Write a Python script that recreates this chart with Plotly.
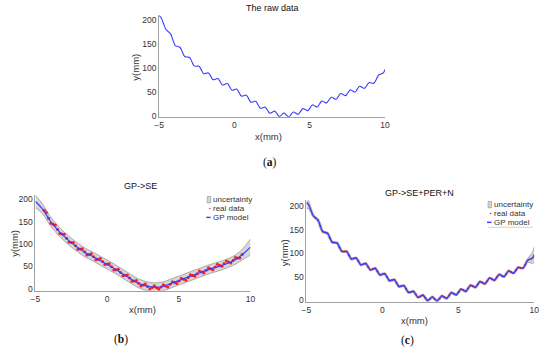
import plotly.graph_objects as go

# ---------------- data ----------------
raw_x = [-5, -4.867, -4.71, -4.553, -4.396, -4.239, -4.082, -3.925, -3.768, -3.611,
         -3.454, -3.297, -3.14, -2.983, -2.826, -2.669, -2.512, -2.355, -2.198, -2.041,
         -1.884, -1.727, -1.57, -1.413, -1.256, -1.099, -0.942, -0.785, -0.628, -0.471,
         -0.314, -0.157, 0, 0.157, 0.314, 0.471, 0.628, 0.785, 0.942, 1.099,
         1.256, 1.413, 1.57, 1.727, 1.884, 2.041, 2.198, 2.355, 2.512, 2.669,
         2.826, 2.983, 3.14, 3.297, 3.454, 3.611, 3.768, 3.925, 4.082, 4.239,
         4.396, 4.553, 4.71, 4.867, 5.024, 5.181, 5.338, 5.495, 5.652, 5.809,
         5.966, 6.123, 6.28, 6.437, 6.594, 6.751, 6.908, 7.065, 7.222, 7.379,
         7.536, 7.693, 7.85, 8.007, 8.164, 8.321, 8.478, 8.635, 8.792, 8.949,
         9.106, 9.263, 9.42, 9.577, 9.734, 9.891, 10]
raw_y = [208, 204, 191.9, 180, 175.2, 170.4, 157.6, 146.2, 144.2, 142.2,
         132.5, 123.5, 122.5, 121.5, 112.8, 104.1, 103.4, 103.5, 95.8, 88,
         88.7, 89.5, 82.4, 75.4, 76.6, 77.8, 71.1, 64.6, 66, 67.5,
         60.7, 53.8, 55, 55.9, 48.7, 41.6, 42.4, 43.3, 36.2, 29,
         29.9, 30.7, 23.6, 16.5, 17.3, 18.4, 12.2, 6, 7.9, 10.3,
         4.7, -0.8, 2.7, 6.4, 2.1, -1.3, 3.6, 8.5, 6, 3.9,
         9.8, 15.6, 13.5, 11.4, 17.3, 23.2, 21.1, 18.9, 25.1, 31.3,
         29.5, 27.5, 33.4, 39.2, 37.1, 35, 40.9, 46.8, 44.7, 42.5,
         48.4, 54.3, 52.2, 50.1, 56, 61.9, 59.7, 57.6, 63.5, 69.4,
         68.5, 68.3, 76.1, 85.1, 87.4, 89.6, 97]

# training range of the "real data" shown in (b) and (c)
train_min, train_max = -4.5, 9.45

# GP with SE kernel: mean and half width of the uncertainty band
se_x = [-5, -4.5, -4, -3.5, -3, -2.5, -2, -1.5, -1, -0.5, 0, 0.5, 1, 1.5, 2, 2.5,
        3, 3.5, 4, 4.5, 5, 5.5, 6, 6.5, 7, 7.5, 8, 8.5, 9, 9.5, 10]
se_mean = [195, 178, 153, 133, 117, 103, 91, 80, 72, 63, 54, 45, 35, 25, 15, 8,
           4, 3, 6, 12, 18, 24, 30, 36, 42, 47, 52, 58, 66, 78, 93]
se_sd = [14, 11, 10, 10, 10, 10, 10, 10, 10, 10, 10, 10, 10, 10, 10, 10,
         10, 10, 10, 10, 10, 10, 10, 10, 10, 10, 10, 10, 10.5, 12.5, 18]

# GP with SE+PER+N kernel: band half width where it opens up at both ends
per_left_x = [-5, -4.867, -4.71, -4.553, -4.396]
per_left_sd = [12, 9, 5, 2.5, 1]
per_right_x = [9.42, 9.577, 9.734, 9.891, 10]
per_right_sd = [1, 4, 8, 12, 16]

x_ticks = [-5, 0, 5, 10]
y_ticks = [0, 50, 100, 150, 200]
legend_labels = ["uncertainty", "real data", "GP model"]

# ---------------- styles ----------------
BLUE = "#3b3bff"
RED = "#ff1a1a"
BAND_FILL = "rgba(200,200,200,0.75)"
BAND_EDGE = "#9a9a9a"
AX = "#a0a0a0"
TXT = "#333333"
FONT = "Liberation Sans"
SM = 1.3

W, H = 550, 356


def px_x(p):
    return p / W


def px_y(p):
    return 1 - p / H


fig = go.Figure()

lookup = dict(zip(raw_x, raw_y))
train_x = [x for x in raw_x if train_min <= x <= train_max]
train_y = [lookup[x] for x in train_x]

# ---------- (a) raw data ----------
fig.add_trace(go.Scatter(x=raw_x, y=raw_y, mode="lines",
                         line=dict(color=BLUE, width=1.1, shape="spline", smoothing=SM),
                         xaxis="x", yaxis="y"))

# ---------- (b) GP->SE ----------
se_up = [m + s for m, s in zip(se_mean, se_sd)]
se_lo = [m - s for m, s in zip(se_mean, se_sd)]
fig.add_trace(go.Scatter(x=se_x, y=se_lo, mode="lines", line=dict(color=BAND_EDGE, width=0.8, shape="spline"),
                         xaxis="x2", yaxis="y2", hoverinfo="skip"))
fig.add_trace(go.Scatter(x=se_x, y=se_up, mode="lines", line=dict(color=BAND_EDGE, width=0.8, shape="spline"),
                         fill="tonexty", fillcolor=BAND_FILL, name="uncertainty", xaxis="x2", yaxis="y2"))
fig.add_trace(go.Scatter(x=train_x, y=train_y, mode="markers", marker=dict(color=RED, size=3),
                         name="real data", xaxis="x2", yaxis="y2"))
fig.add_trace(go.Scatter(x=se_x, y=se_mean, mode="lines", line=dict(color=BLUE, width=1.2, shape="spline"),
                         name="GP model", xaxis="x2", yaxis="y2"))

# ---------- (c) GP->SE+PER+N ----------
for bx, bsd in ((per_left_x, per_left_sd), (per_right_x, per_right_sd)):
    c = [lookup[x] for x in bx]
    lo = [v - s for v, s in zip(c, bsd)]
    up = [v + s for v, s in zip(c, bsd)]
    fig.add_trace(go.Scatter(x=bx, y=lo, mode="lines", line=dict(color=BAND_EDGE, width=0.8),
                             xaxis="x3", yaxis="y3", hoverinfo="skip"))
    fig.add_trace(go.Scatter(x=bx, y=up, mode="lines", line=dict(color=BAND_EDGE, width=0.8),
                             fill="tonexty", fillcolor=BAND_FILL, xaxis="x3", yaxis="y3", hoverinfo="skip"))
# thin band along the fitted curve
fig.add_trace(go.Scatter(x=raw_x, y=raw_y, mode="lines",
                         line=dict(color="#b5b5b5", width=3.0, shape="spline", smoothing=SM),
                         xaxis="x3", yaxis="y3", hoverinfo="skip"))
fig.add_trace(go.Scatter(x=train_x, y=train_y, mode="markers", marker=dict(color=RED, size=2),
                         name="real data", xaxis="x3", yaxis="y3"))
fig.add_trace(go.Scatter(x=raw_x, y=raw_y, mode="lines",
                         line=dict(color=BLUE, width=1.3, shape="spline", smoothing=SM),
                         name="GP model", xaxis="x3", yaxis="y3"))


def xa(dom, anchor):
    return dict(domain=dom, anchor=anchor, range=[-5, 10], tickvals=x_ticks, showgrid=False, zeroline=False,
                showline=True, linecolor=AX, linewidth=1, ticks="",
                tickfont=dict(size=8.5, color=TXT, family=FONT))


def ya(dom, anchor, rng):
    return dict(domain=dom, anchor=anchor, range=rng, tickvals=y_ticks, showgrid=False, zeroline=False,
                showline=True, linecolor=AX, linewidth=1, ticks="",
                tickfont=dict(size=8.5, color=TXT, family=FONT))


fig.update_layout(
    width=W, height=H, autosize=False, margin=dict(l=0, r=0, t=0, b=0),
    paper_bgcolor="white", plot_bgcolor="white", showlegend=False,
    font=dict(family=FONT, size=8.5, color=TXT),
    xaxis=xa([px_x(157), px_x(387)], "y"),
    yaxis=ya([px_y(117.5), px_y(14)], "x", [-1.5, 210]),
    xaxis2=xa([px_x(31), px_x(250)], "y2"),
    yaxis2=ya([px_y(294), px_y(197)], "x2", [-5, 209]),
    xaxis3=xa([px_x(307), px_x(539)], "y3"),
    yaxis3=ya([px_y(305), px_y(202)], "x3", [-3.5, 213]),
)


def text(t, x, y, size=8.5, color=TXT, anchor="center", angle=0, family=FONT):
    fig.add_annotation(text=t, x=px_x(x), y=px_y(y), xref="paper", yref="paper", showarrow=False,
                       font=dict(size=size, color=color, family=family), xanchor=anchor, yanchor="middle",
                       textangle=angle)


# titles
text("The raw data", 272, 7, 9, "#111111")
text("GP->SE", 138, 188, 9, "#111111")
text("GP->SE+PER+N", 422, 195, 9, "#111111")

# axis titles
for xl, yl in (((268, 137), (132, 67)), ((140, 313), (9.5, 246)), ((417, 324), (285, 255))):
    text("x(mm)", xl[0], xl[1], 9.5)
    text("y(mm)", yl[0], yl[1], 9.5, angle=-90)

# panel letters
text("(<b>a</b>)", 270, 164, 11.5, "#111111", family="Liberation Serif")
text("(<b>b</b>)", 118, 343, 11.5, "#111111", family="Liberation Serif")
text("(<b>c</b>)", 410, 344, 11.5, "#111111", family="Liberation Serif")


# legends (drawn as a compact MATLAB-style key)
def legend_key(x0, y0, step):
    fig.add_shape(type="rect", xref="paper", yref="paper", x0=px_x(x0 - 4), x1=px_x(x0 - 0.5),
                  y0=px_y(y0 + 3.2), y1=px_y(y0 - 3.2), fillcolor="#d6d6d6", line=dict(color="#8c8c8c", width=0.6))
    fig.add_shape(type="circle", xref="paper", yref="paper", x0=px_x(x0 - 2.2), x1=px_x(x0 - 0.6),
                  y0=px_y(y0 + step + 0.8), y1=px_y(y0 + step - 0.8), fillcolor=RED, line=dict(width=0))
    fig.add_shape(type="line", xref="paper", yref="paper", x0=px_x(x0 - 5), x1=px_x(x0 - 0.5),
                  y0=px_y(y0 + 2 * step), y1=px_y(y0 + 2 * step), line=dict(color=BLUE, width=1.4))
    for i, lab in enumerate(legend_labels):
        text(lab, x0, y0 + i * step, 8, TXT, anchor="left")


legend_key(210, 201.5, 9)
legend_key(496, 206.5, 9)
fig.add_shape(type="line", xref="paper", yref="paper", x0=px_x(492), x1=px_x(538),
              y0=px_y(229.5), y1=px_y(229.5), line=dict(color="#c8c8c8", width=0.8))

fig.write_html("out.html", config={"displayModeBar": False},
               post_script="document.body.style.margin='0';document.body.style.overflow='hidden';")
